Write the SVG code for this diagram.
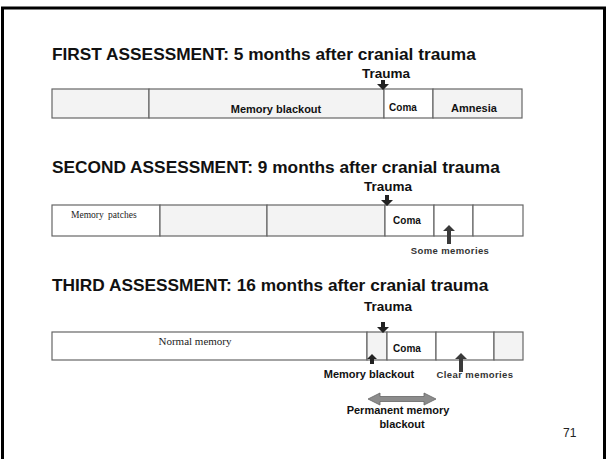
<svg xmlns="http://www.w3.org/2000/svg" width="607" height="459" viewBox="0 0 607 459">
<style>
.title{font-family:"Liberation Sans",Arial,sans-serif;font-weight:bold;font-size:17.3px;fill:#111}
.trauma{font-family:"Liberation Sans",Arial,sans-serif;font-weight:bold;font-size:13.5px;fill:#111;text-anchor:middle}
.lbl{font-family:"Liberation Sans",Arial,sans-serif;font-weight:bold;font-size:11px;fill:#111;text-anchor:middle}
.coma{font-family:"Liberation Sans",Arial,sans-serif;font-weight:bold;font-size:10px;fill:#111;text-anchor:middle}
.small{font-family:"Liberation Sans",Arial,sans-serif;font-weight:bold;font-size:9.5px;fill:#333;text-anchor:middle;letter-spacing:0.4px}
.serif{font-family:"Liberation Serif","Times New Roman",serif;fill:#222}
.cell{fill:#fff;stroke:#666;stroke-width:1.2}
.tex{fill:#f3f3f3;stroke:#666;stroke-width:1.2}
.arr{fill:#222}
.garr{fill:#3a3a3a}
</style>
<rect width="607" height="459" fill="#fff"/>
<path d="M2.5 459 V8 H604.5 V459" fill="none" stroke="#000" stroke-width="3"/>

<g id="first">
<text class="title" x="52" y="60">FIRST ASSESSMENT: 5 months after cranial trauma</text>
<text class="trauma" x="386" y="77.5">Trauma</text>
<g id="row1">
<rect class="tex" x="52" y="89" width="97" height="29"/>
<rect class="tex" x="149" y="89" width="235" height="29"/>
<rect class="cell" x="384" y="89" width="49" height="29"/>
<rect class="tex" x="433" y="89" width="89" height="29"/>
<text class="lbl" x="276" y="113">Memory blackout</text>
<text class="coma" x="403" y="111">Coma</text>
<text class="lbl" x="474" y="112">Amnesia</text>
</g>
</g>

<g id="second">
<text class="title" x="52" y="173">SECOND ASSESSMENT: 9 months after cranial trauma</text>
<text class="trauma" x="388" y="191">Trauma</text>
<g id="row2">
<rect class="cell" x="52" y="205" width="108" height="31"/>
<rect class="tex" x="160" y="205" width="107" height="31"/>
<rect class="tex" x="267" y="205" width="118" height="31"/>
<rect class="cell" x="385" y="205" width="49" height="31"/>
<rect class="cell" x="434" y="205" width="39" height="31"/>
<rect class="cell" x="473" y="205" width="50" height="31"/>
<text class="serif" x="71" y="218" font-size="9.5" word-spacing="2">Memory patches</text>
<text class="coma" x="407" y="224">Coma</text>
<text class="small" x="450" y="254">Some memories</text>
</g>
</g>

<g id="third">
<text class="title" x="52" y="291">THIRD ASSESSMENT: 16 months after cranial trauma</text>
<text class="trauma" x="388" y="311">Trauma</text>
<g id="row3">
<rect class="cell" x="52" y="332" width="315" height="28"/>
<rect class="tex" x="367" y="332" width="20" height="28"/>
<rect class="cell" x="387" y="332" width="49" height="28"/>
<rect class="cell" x="436" y="332" width="58" height="28"/>
<rect class="tex" x="494" y="332" width="29" height="28"/>
<text class="serif" x="195" y="345" font-size="11" text-anchor="middle">Normal memory</text>
<text class="coma" x="407" y="352">Coma</text>
<text class="lbl" x="369" y="378">Memory blackout</text>
<text class="small" x="475" y="378">Clear memories</text>
</g>
<g id="permanent">
<text class="lbl" x="398" y="414" font-size="12">Permanent memory</text>
<text class="lbl" x="402" y="428" font-size="12">blackout</text>
</g>
</g>

<g id="connectors">
<path class="arr" d="M381 80 H385 V84 H389 L383 90 L377 84 H381 Z"/>
<path class="arr" d="M385 195 H389 V200 H393 L387 206 L381 200 H385 Z"/>
<path class="arr" d="M381 322 H385 V327 H389 L383 333 L377 327 H381 Z"/>
<path class="garr" d="M447 244 H451 V231 H455 L449 225 L443 231 H447 Z"/>
<path class="arr" d="M370 364 H374 V359 H377 L372 354 L367 359 H370 Z"/>
<path class="garr" d="M459 372 H463 V359 H467 L461 353 L455 359 H459 Z"/>
<path d="M368 399 L380 393 V396.5 H424 V393 L436 399 L424 405 V401.5 H380 V405 Z" fill="#8c8c8c" stroke="#666" stroke-width="0.8"/>
</g>

<text x="563" y="437" font-family="'Liberation Sans',Arial,sans-serif" font-size="12" fill="#222">71</text>
</svg>
